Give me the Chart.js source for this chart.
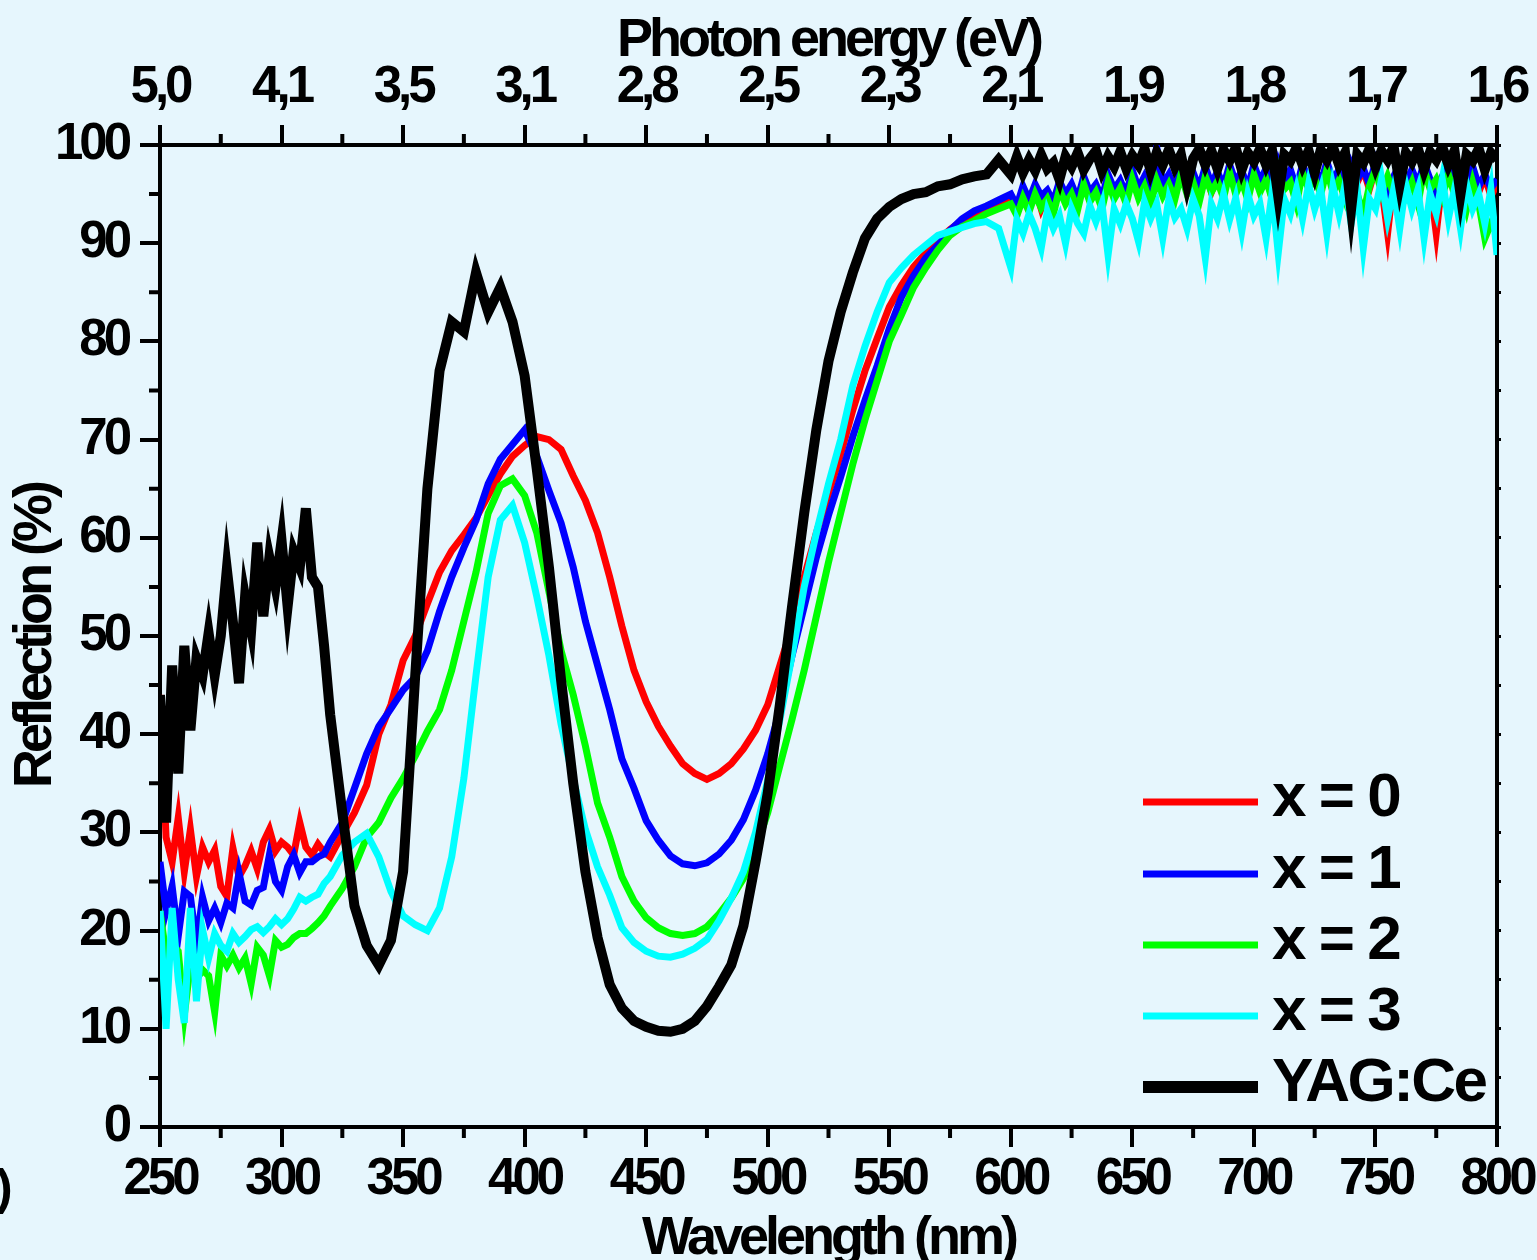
<!DOCTYPE html>
<html lang="pt">
<head>
<meta charset="utf-8">
<title>Reflection spectra</title>
<script src="https://cdn.jsdelivr.net/npm/chart.js@4.4.1/dist/chart.umd.min.js"></script>
<style>
  html, body { margin: 0; padding: 0; background: #e6f6fd; }
  #caixa { width: 1537px; height: 1260px; position: relative; }
</style>
</head>
<body>
<div id="caixa"><canvas id="grafico"></canvas></div>
<script>
// Comprimento de onda (nm) - passo menor nas regiões com ruído
const comprimentos = [
  250, 252.5, 255, 257.5, 260, 262.5, 265, 267.5, 270, 272.5, 275, 277.5, 280, 282.5, 285,
  287.5, 290, 292.5, 295, 297.5, 300, 302.5, 305, 307.5, 310, 312.5, 315, 317.5, 320,
  325, 330, 335, 340, 345, 350, 355, 360, 365, 370, 375, 380, 385, 390, 395,
  400, 405, 410, 415, 420, 425, 430, 435, 440, 445, 450, 455, 460, 465, 470, 475, 480, 485, 490, 495,
  500, 505, 510, 515, 520, 525, 530, 535, 540, 545, 550, 555, 560, 565, 570, 575, 580, 585, 590, 595,
  600, 602.5, 605, 607.5, 610, 612.5, 615, 617.5, 620, 622.5, 625, 627.5, 630, 632.5, 635, 637.5,
  640, 642.5, 645, 647.5, 650, 652.5, 655, 657.5, 660, 662.5, 665, 667.5, 670, 672.5, 675, 677.5,
  680, 682.5, 685, 687.5, 690, 692.5, 695, 697.5, 700, 702.5, 705, 707.5, 710, 712.5, 715, 717.5,
  720, 722.5, 725, 727.5, 730, 732.5, 735, 737.5, 740, 742.5, 745, 747.5, 750, 752.5, 755, 757.5,
  760, 762.5, 765, 767.5, 770, 772.5, 775, 777.5, 780, 782.5, 785, 787.5, 790, 792.5, 795, 797.5,
  800
];

// Rótulos do eixo de cima (energia do fóton, eV)
const rotulosEnergia = ['5,0', '4,1', '3,5', '3,1', '2,8', '2,5', '2,3', '2,1', '1,9', '1,8', '1,7', '1,6'];

const nomesSeries = ['x = 0', 'x = 1', 'x = 2', 'x = 3', 'YAG:Ce'];
const coresSeries = ['#ff0000', '#0000ff', '#00ff00', '#00ffff', '#000000'];

// Reflexão (%)
const reflexaoX0 = [
  // 250 - 320
  44, 29.5, 27, 31.5, 26, 30.3, 25.5, 28.5, 27, 28.2, 24.5, 23.5, 28.4, 25.5, 26.6,
  28.1, 26.3, 29, 30.3, 28.1, 29, 28.5, 27.7, 31, 28.5, 27.7, 28.8, 28, 27.5,
  // 325 - 595
  29.8, 32, 34.8, 40, 43, 47.5, 50, 53.3, 56.5, 58.7, 60.3, 62, 64.3, 66.5, 68.3,
  69.4, 70.3, 70, 69, 66.3, 63.8, 60.5, 56, 51, 46.5, 43.3, 40.8, 38.8, 37, 36, 35.4, 36, 37, 38.5, 40.4,
  43, 47, 51, 56, 60.5, 64.5, 68.5, 73, 77, 80.3, 83.5, 85.7, 87.6, 89, 90.3, 91.4, 92.3, 93, 93.6, 94,
  // 600 - 800
  94.8, 93.2, 95.3, 94, 95.6, 93.5, 95, 94.2, 96, 94.5, 95.4, 93.8, 96.2, 94.6, 95.5, 94,
  96.5, 95, 96.2, 94.5, 96.8, 95, 96.3, 94.6, 97, 95.3, 96.6, 94.8, 97.2, 95.5, 96.5, 95,
  97.3, 95.2, 96.8, 95.5, 97.5, 95.8, 97, 95.2, 97.5, 95.6, 97.2, 94.5, 97.6, 95.8, 97, 95.2,
  97.8, 96, 97.2, 95.4, 97.8, 96, 97.3, 95.5, 97.8, 96.2, 97.5, 95.5, 97.6, 95.8, 91, 96.5,
  97.5, 95.5, 97, 95.8, 97.8, 96, 91, 96.5, 97.6, 95.5, 97.2, 95.4, 97.6, 95.2, 96.8, 94.8,
  96
];

const reflexaoX1 = [
  // 250 - 320
  27, 22, 24.5, 19.4, 24, 23.5, 18.6, 23.4, 21, 22.3, 20.8, 22.8, 22.3, 25.9, 23,
  22.6, 24.1, 24.4, 27.7, 25, 24.1, 26.5, 27.7, 25.9, 27, 27, 27.5, 27.8, 29,
  // 325 - 595
  31, 34.5, 38, 40.8, 42.6, 44.5, 45.8, 48.5, 52.5, 56, 59, 61.8, 65.5, 68, 69.5,
  71, 68.3, 64.8, 61.5, 57, 51.5, 47, 42.5, 37.5, 34.5, 31.2, 29.2, 27.6, 26.8, 26.6, 26.9, 27.8, 29.2, 31.3, 34.3,
  38, 42.5, 48, 53, 58, 62.3, 66.2, 70.3, 74, 77.5, 81.3, 84.5, 86.7, 88.5, 89.8, 91.3, 92.5, 93.3, 93.8, 94.4,
  // 600 - 800
  95, 93.8, 95.8, 94.4, 96, 94.8, 95.4, 94.2, 96.3, 95, 96, 94.5, 96.8, 95.2, 96, 94.6,
  97, 95.5, 96.4, 95, 97.4, 95.6, 96.8, 95.5, 99.8, 96, 97, 95.5, 97.6, 96, 97.2, 95.6,
  97.8, 96, 97.3, 95.8, 98, 96.2, 97.4, 95.6, 98, 96.3, 97.6, 95.8, 98.2, 96.4, 97.5, 95.6,
  98, 96.5, 97.8, 96, 98.3, 96.4, 97.5, 95.5, 98, 96.5, 97.6, 96, 98.2, 96.3, 94.8, 96.8,
  98, 96.2, 97.5, 96, 98.2, 96.5, 95, 96.8, 98, 96, 97.5, 96, 97.8, 95.8, 97, 95.6,
  96.5
];

const reflexaoX2 = [
  // 250 - 320
  22, 17.5, 18.6, 17.9, 11.4, 16.5, 15, 16, 15.4, 11.7, 17.5, 16.4, 17.5, 16.2, 17.2,
  14.6, 18.3, 17.5, 15.4, 19, 18.3, 18.6, 19.3, 19.7, 19.7, 20.2, 20.8, 21.5, 22.5,
  // 325 - 595
  24.3, 26.5, 29.5, 31, 33.5, 35.5, 37.8, 40.3, 42.5, 46.5, 51.5, 56.5, 62.5, 65.3, 66,
  64.3, 60.5, 54.5, 48.5, 44, 38.8, 33, 29.5, 25.5, 23, 21.3, 20.3, 19.7, 19.5, 19.7, 20.4, 21.7, 23.3, 25.3, 28.3,
  32, 36.8, 41.5, 46.5, 52, 57.5, 62.5, 67.5, 72, 76, 80, 82.7, 85.5, 87.5, 89.3, 90.8, 91.7, 92.3, 93, 93.5,
  // 600 - 800
  94, 92.8, 94.6, 93.2, 95, 93.6, 94.5, 93, 95.5, 94, 95, 93.4, 96, 94.2, 95.2, 93.5,
  96.2, 94.5, 95.6, 94, 96.5, 94.6, 95.8, 94, 96.4, 94.8, 96, 94.5, 97, 95, 96.2, 94.2,
  96.8, 95.2, 96.3, 94.6, 97.2, 95, 96.4, 94.4, 97, 95.2, 96.5, 94.5, 97.5, 95.5, 96.2, 94,
  97.2, 95.5, 96.6, 95, 97.5, 95.2, 96.4, 94.5, 97, 95, 93, 95.8, 97.5, 95.2, 96.8, 95,
  97, 94.8, 96.2, 94, 97.5, 95.5, 96.5, 94.8, 97, 95, 96, 93.5, 96.2, 94, 90.5, 92,
  91
];

const reflexaoX3 = [
  // 250 - 320
  22, 10, 22.3, 15, 10.6, 22.3, 12.8, 20.1, 17.2, 19.7, 18.5, 17.9, 19.7, 18.8, 19.4,
  20.1, 20.4, 19.8, 20.4, 21.2, 20.6, 21.2, 22.2, 23.4, 23, 23.4, 23.7, 24.8, 25.5,
  // 325 - 595
  27.7, 29, 29.9, 27.5, 24, 21.5, 20.6, 20, 22.3, 27.5, 35.5, 46, 56, 61.8, 63.3,
  59.5, 54, 48, 41, 35.4, 30.3, 26.5, 23.6, 20.3, 18.8, 17.9, 17.4, 17.3, 17.6, 18.2, 19.1, 21, 23.3, 26, 30,
  35.3, 41.5, 48, 55, 60.5, 65.5, 70, 75.5, 79.5, 83, 86, 87.5, 88.8, 89.8, 90.8, 91.2, 91.6, 92, 92.2, 91.5,
  // 600 - 800
  87.5, 92.4, 91, 93, 91.5, 89.5, 93.2, 91.5, 92.8, 90, 93.5, 92, 91, 93.8, 92.2, 94,
  88.8, 93.5, 92, 94, 92.5, 90.2, 94.2, 92.5, 94, 90.5, 94.5, 92.6, 93.5, 91.5, 94.5, 92.8,
  88.5, 94, 92.5, 95, 92.4, 94.6, 91.2, 95, 92.8, 94, 90.5, 95.2, 89, 94.5, 93, 95.5,
  92.5, 96, 93.5, 95.5, 91, 95.8, 93, 96, 92, 95.5, 89.5, 94.5, 93.5, 96.5, 92.5, 95.5,
  91.5, 96, 93.5, 95.5, 90.5, 95, 93, 96.5, 92.5, 95.5, 91.5, 96, 93.5, 95, 92, 95.5,
  88.8
];

const reflexaoYAG = [
  // 250 - 320
  44, 31, 47, 36, 49, 40.4, 47.7, 46, 50.3, 46, 50, 56.8, 51.4, 45.2, 54,
  50.6, 59.5, 52, 58, 55, 59.7, 53, 58.6, 57, 63, 56, 55, 49, 42,
  // 325 - 595
  32, 22.5, 18.5, 16.5, 19, 26, 46, 65, 77, 82, 81, 87, 83, 85.5, 82,
  76.5, 67, 57, 45.5, 35, 26, 19.3, 14.5, 12.1, 10.8, 10.2, 9.8, 9.7, 10, 10.8, 12.3, 14.3, 16.5, 20.5, 27,
  34, 43, 53, 62.5, 71, 78, 83, 87, 90.5, 92.5, 93.7, 94.5, 95, 95.2, 95.8, 96, 96.5, 96.8, 97, 98.5,
  // 600 - 800
  97, 98.8, 97.2, 98.5, 97.4, 99, 97.6, 98.2, 96.5, 98.8, 97.8, 99.2, 97.5, 98.6, 99.4, 97.4,
  98.8, 97.8, 99.3, 97.6, 98.9, 98, 99.6, 97.4, 99.2, 98, 99.5, 97.8, 99, 96, 98.6, 99.6,
  98, 99.4, 97.6, 99.5, 98.4, 99.7, 97.5, 99.2, 98.3, 99.6, 98, 99.4, 94.8, 99, 98.4, 99.7,
  98, 99.4, 97.2, 99.5, 98.5, 99.8, 98, 99.2, 93.5, 99, 98.2, 99.6, 97.8, 99.4, 98.5, 99.8,
  96, 99.2, 98.3, 99.6, 97.5, 99.3, 98.5, 99.8, 98, 99.4, 95, 99, 98.4, 99.6, 97.5, 99.2,
  98.5
];

const fonte = "'Liberation Sans', Arial, sans-serif";
const series = [reflexaoX0, reflexaoX1, reflexaoX2, reflexaoX3, reflexaoYAG];

// Monta os datasets (preto desenhado por cima)
const datasets = series.map((valores, i) => ({
  label: nomesSeries[i],
  data: comprimentos.map((c, j) => ({ x: c, y: valores[j] })),
  borderColor: coresSeries[i],
  borderWidth: i === 4 ? 10 : 7,
  borderJoinStyle: 'miter',
  pointRadius: 0,
  tension: 0,
  order: 5 - i
}));

const fonteTick = { family: fonte, size: 51, weight: 'bold' };
const fonteTitulo = { family: fonte, size: 54, weight: 'bold' };
const gradeEixo = { drawOnChartArea: false, tickLength: 20, lineWidth: 4, color: '#000' };
const bordaEixo = { width: 4, color: '#000' };

// Texto mais apertado, como no original
const espacamento = {
  id: 'espacamento',
  beforeDraw(chart) {
    chart.ctx.letterSpacing = '-4px';
  }
};

// Marcas menores, legenda e resto de rótulo
const extras = {
  id: 'extras',
  afterDraw(chart) {
    const ctx = chart.ctx;
    const { left, top, bottom } = chart.chartArea;
    const sx = chart.scales.x;
    const sy = chart.scales.y;
    ctx.save();
    ctx.strokeStyle = '#000';
    ctx.lineWidth = 4;
    ctx.beginPath();
    for (let c = 275; c < 800; c += 50) {
      const px = sx.getPixelForValue(c);
      ctx.moveTo(px, bottom);
      ctx.lineTo(px, bottom + 11);
      ctx.moveTo(px, top);
      ctx.lineTo(px, top - 11);
    }
    for (let r = 5; r < 100; r += 10) {
      const py = sy.getPixelForValue(r);
      ctx.moveTo(left, py);
      ctx.lineTo(left - 11, py);
    }
    ctx.stroke();

    // Legenda
    const linhas = [802, 874, 945, 1016, 1087];
    ctx.letterSpacing = '-2.5px';
    chart.data.datasets.forEach((ds, i) => {
      const y = linhas[i];
      ctx.beginPath();
      ctx.strokeStyle = ds.borderColor;
      ctx.lineWidth = i === 4 ? 12 : 7;
      ctx.lineCap = 'butt';
      ctx.moveTo(1143, y);
      ctx.lineTo(1258, y);
      ctx.stroke();
      ctx.fillStyle = '#000';
      ctx.font = 'bold 62px ' + fonte;
      ctx.textAlign = 'left';
      ctx.textBaseline = 'middle';
      ctx.fillText(ds.label, 1272, y - 3);
    });

    ctx.font = 'bold 50px ' + fonte;
    ctx.fillText(')', -4, 1190);
    ctx.restore();
  }
};

const ctx = document.getElementById('grafico').getContext('2d');
const grafico = new Chart(ctx, {
  type: 'line',
  data: { datasets: datasets },
  options: {
    responsive: true,
    maintainAspectRatio: false,
    animation: false,
    layout: { padding: 0 },
    plugins: { legend: { display: false }, tooltip: { enabled: false } },
    scales: {
      x: {
        type: 'linear', position: 'bottom', min: 250, max: 800,
        ticks: { stepSize: 50, color: '#000', font: fonteTick, padding: 2, maxRotation: 0, autoSkip: false },
        grid: gradeEixo,
        border: bordaEixo,
        title: { display: true, text: 'Wavelength (nm)', color: '#000', font: fonteTitulo, padding: { top: 0, bottom: -12 } },
        afterFit: (s) => { s.height = 133; s.paddingLeft = 0; s.paddingRight = 0; }
      },
      x2: {
        type: 'linear', position: 'top', min: 250, max: 800,
        ticks: {
          stepSize: 50, color: '#000', font: fonteTick, padding: 6, maxRotation: 0, autoSkip: false,
          callback: (v) => rotulosEnergia[Math.round((v - 250) / 50)]
        },
        grid: gradeEixo,
        border: bordaEixo,
        title: { display: true, text: 'Photon energy (eV)', color: '#000', font: fonteTitulo, padding: { top: 9, bottom: 0 } },
        afterFit: (s) => { s.height = 145; s.paddingLeft = 0; s.paddingRight = 0; }
      },
      y: {
        position: 'left', min: 0, max: 100,
        ticks: { stepSize: 10, color: '#000', font: fonteTick, padding: 12 },
        grid: gradeEixo,
        border: bordaEixo,
        title: { display: true, text: 'Reflection (%)', color: '#000', font: fonteTitulo, padding: { top: 4, bottom: 0 } },
        afterFit: (s) => { s.width = 160; }
      },
      y2: {
        position: 'right', min: 0, max: 100,
        ticks: { stepSize: 5, display: false },
        grid: { drawOnChartArea: false, tickLength: 4, lineWidth: 3, color: '#000' },
        border: bordaEixo,
        afterFit: (s) => { s.width = 40; }
      }
    }
  },
  plugins: [espacamento, extras]
});
</script>
</body>
</html>
